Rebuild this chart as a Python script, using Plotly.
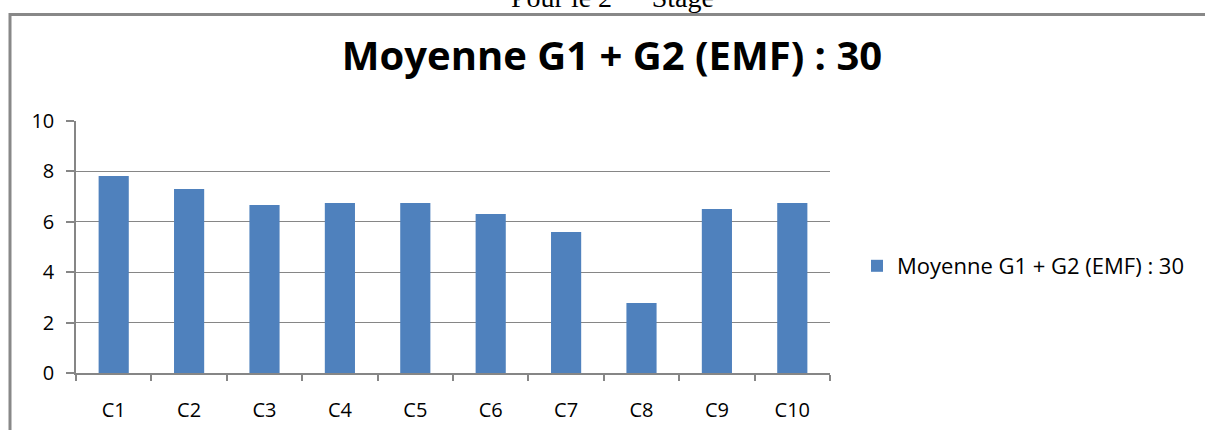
import plotly.graph_objects as go

categories = ["C1", "C2", "C3", "C4", "C5", "C6", "C7", "C8", "C9", "C10"]
values = [7.82, 7.30, 6.67, 6.75, 6.75, 6.31, 5.60, 2.78, 6.51, 6.75]
series_name = "Moyenne G1 + G2 (EMF) : 30"
y_ticks = [0, 2, 4, 6, 8, 10]

W, H = 1205, 430
L, R, T, B = 76, 375, 121, 57
pw, ph = W - L - R, H - T - B

def px(x):
    return (x - L) / pw

def py(y):
    return (H - B - y) / ph

fig = go.Figure()
fig.add_trace(go.Bar(x=categories, y=values, name=series_name,
                     marker=dict(color="#4F81BD", line=dict(width=0))))

grey = "#868686"
fig.update_layout(
    width=W, height=H,
    margin=dict(l=L, r=R, t=T, b=B, autoexpand=False),
    paper_bgcolor="white", plot_bgcolor="white",
    bargap=0.6,
    showlegend=True,
    font=dict(family="Open Sans", color="black", size=16),
    title=dict(text="<b>Moyenne G1 + G2 (EMF) : 30</b>", xref="container",
               x=612 / W, xanchor="center",
               yref="container", y=1 - 56 / H, yanchor="middle",
               font=dict(family="Open Sans", size=40, color="black")),
    legend=dict(xref="container", yref="container",
                x=857 / W, y=1 - 266 / H, xanchor="left", yanchor="middle",
                font=dict(size=22, color="black"), bgcolor="rgba(0,0,0,0)"),
    xaxis=dict(showline=True, linecolor=grey, linewidth=1.5, ticks="outside",
               tickson="boundaries", ticklen=6, tickcolor=grey, tickwidth=1.5,
               showgrid=False, ticklabelstandoff=18, automargin=False,
               tickfont=dict(size=20, color="black")),
    yaxis=dict(range=[0, 10], tickvals=y_ticks, showline=True, linecolor=grey,
               linewidth=1.5, ticks="outside", ticklen=8, tickcolor=grey,
               tickwidth=1.5, showgrid=True, gridcolor=grey, gridwidth=1,
               zeroline=False, ticklabelstandoff=8, automargin=False,
               tickfont=dict(size=20, color="black")),
)

# outer frame (top and left edges visible)
fig.add_shape(type="line", xref="paper", yref="paper",
              x0=px(10), x1=px(1215), y0=py(14.5), y1=py(14.5),
              line=dict(color="#888888", width=3))
fig.add_shape(type="line", xref="paper", yref="paper",
              x0=px(10), x1=px(10), y0=py(13), y1=py(440),
              line=dict(color="#888888", width=3))

fig.add_annotation(text="Pour le 2<sup>ème</sup> Stage", xref="paper", yref="paper",
                   x=px(612), y=py(15), xanchor="center", yanchor="bottom",
                   showarrow=False,
                   font=dict(family="Liberation Serif", size=28, color="black"))

fig.write_html("out.html", config={"displayModeBar": False},
               post_script="document.body.style.margin='0';")
